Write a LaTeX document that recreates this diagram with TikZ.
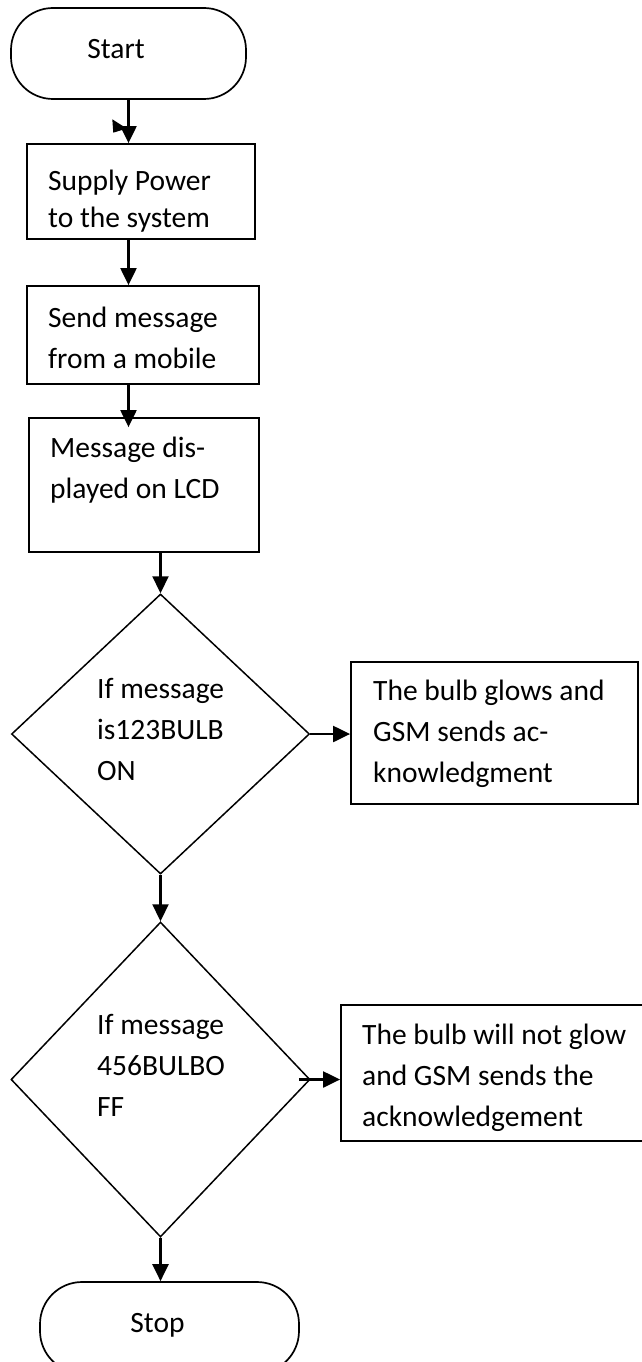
\documentclass[tikz,border=0pt]{standalone}
\usepackage{fontspec}
\setmainfont{Carlito}
\usetikzlibrary{shapes.geometric,arrows.meta}
\begin{document}
\begin{tikzpicture}[x=1pt,y=-1pt,
  box/.style={draw, line width=1.8pt, rectangle, inner sep=0pt},
  term/.style={draw, line width=1.7pt, rectangle, rounded corners=42pt, inner sep=0pt},
  dec/.style={draw, line width=1.5pt, diamond, inner sep=0pt},
  txt/.style={anchor=base west, inner sep=0pt, font=\fontsize{29.5}{41}\selectfont},
  lbl/.style={anchor=base, inner sep=0pt, font=\fontsize{29.5}{35}\selectfont},
  arr/.style={line width=2.2pt, -{Triangle[length=17pt,width=16pt]}}]
\useasboundingbox (0,0) rectangle (642,1362);
\fill[white] (0,0) rectangle (642,1362);
\clip (0,0) rectangle (642,1362);

% Start
\node[term, minimum width=235pt, minimum height=91pt] (start) at (128.5,53.5) {};
\node[lbl] (tstart) at (116,59) {Start};

% Box 1
\node[box, minimum width=228pt, minimum height=95pt] (b1) at (141,191.5) {};
\node[txt, font=\fontsize{29.5}{37}\selectfont] (t1) at (48,190) {\begin{tabular}[t]{@{}l@{}}Supply Power\\to the system\end{tabular}};

% Box 2
\node[box, minimum width=232pt, minimum height=98pt] (b2) at (143,335) {};
\node[txt] (t2) at (48,327) {\begin{tabular}[t]{@{}l@{}}Send message\\from a mobile\end{tabular}};

% Box 3
\node[box, minimum width=230pt, minimum height=134pt] (b3) at (144,485) {};
\node[txt] (t3) at (50,457) {\begin{tabular}[t]{@{}l@{}}Message dis-\\played on LCD\end{tabular}};

% Decision 1
\node[dec, minimum width=298pt, minimum height=280pt] (d1) at (160.5,734) {};
\node[txt] (td1) at (97,698) {\begin{tabular}[t]{@{}l@{}}If message\\is123BULB\\ON\end{tabular}};

% Box 4
\node[box, minimum width=287pt, minimum height=142pt] (b4) at (494.5,733) {};
\node[txt] (t4) at (373,700) {\begin{tabular}[t]{@{}l@{}}The bulb glows and\\GSM sends ac-\\knowledgment\end{tabular}};

% Decision 2
\node[dec, minimum width=299pt, minimum height=315pt] (d2) at (160.5,1079.5) {};
\node[txt] (td2) at (97,1034) {\begin{tabular}[t]{@{}l@{}}If message\\456BULBO\\FF\end{tabular}};

% Box 5
\node[box, minimum width=359pt, minimum height=136pt] (b5) at (520.5,1073) {};
\node[txt] (t5) at (362,1044) {\begin{tabular}[t]{@{}l@{}}The bulb will not glow\\and GSM sends the\\acknowledgement\end{tabular}};

% Stop
\node[term, minimum width=259pt, minimum height=91pt] (stop) at (169.5,1327.5) {};
\node[lbl] (tstop) at (157.5,1332) {Stop};

% Connectors
\draw[arr] (start.south) -- (b1.north -| start.south);
\fill (112.3,119.3) -- (126.7,128.5) -- (113.3,132.7) -- cycle;
\draw[arr] (b1.south -| start.south) -- (b2.north -| start.south);
\draw[arr, shorten >=-10pt] (b2.south -| start.south) -- (b3.north -| start.south);
\draw[arr] (b3.south -| d1.north) -- (d1.north);
\draw[arr] (d1.south) -- (d2.north);
\draw[arr] (d2.south) -- (d2.south |- stop.north);
\draw[arr] (d1.east) -- (d1.east -| b4.west);
\draw[arr] ([xshift=-12pt]d2.east) -- (d2.east -| b5.west);
\end{tikzpicture}
\end{document}
